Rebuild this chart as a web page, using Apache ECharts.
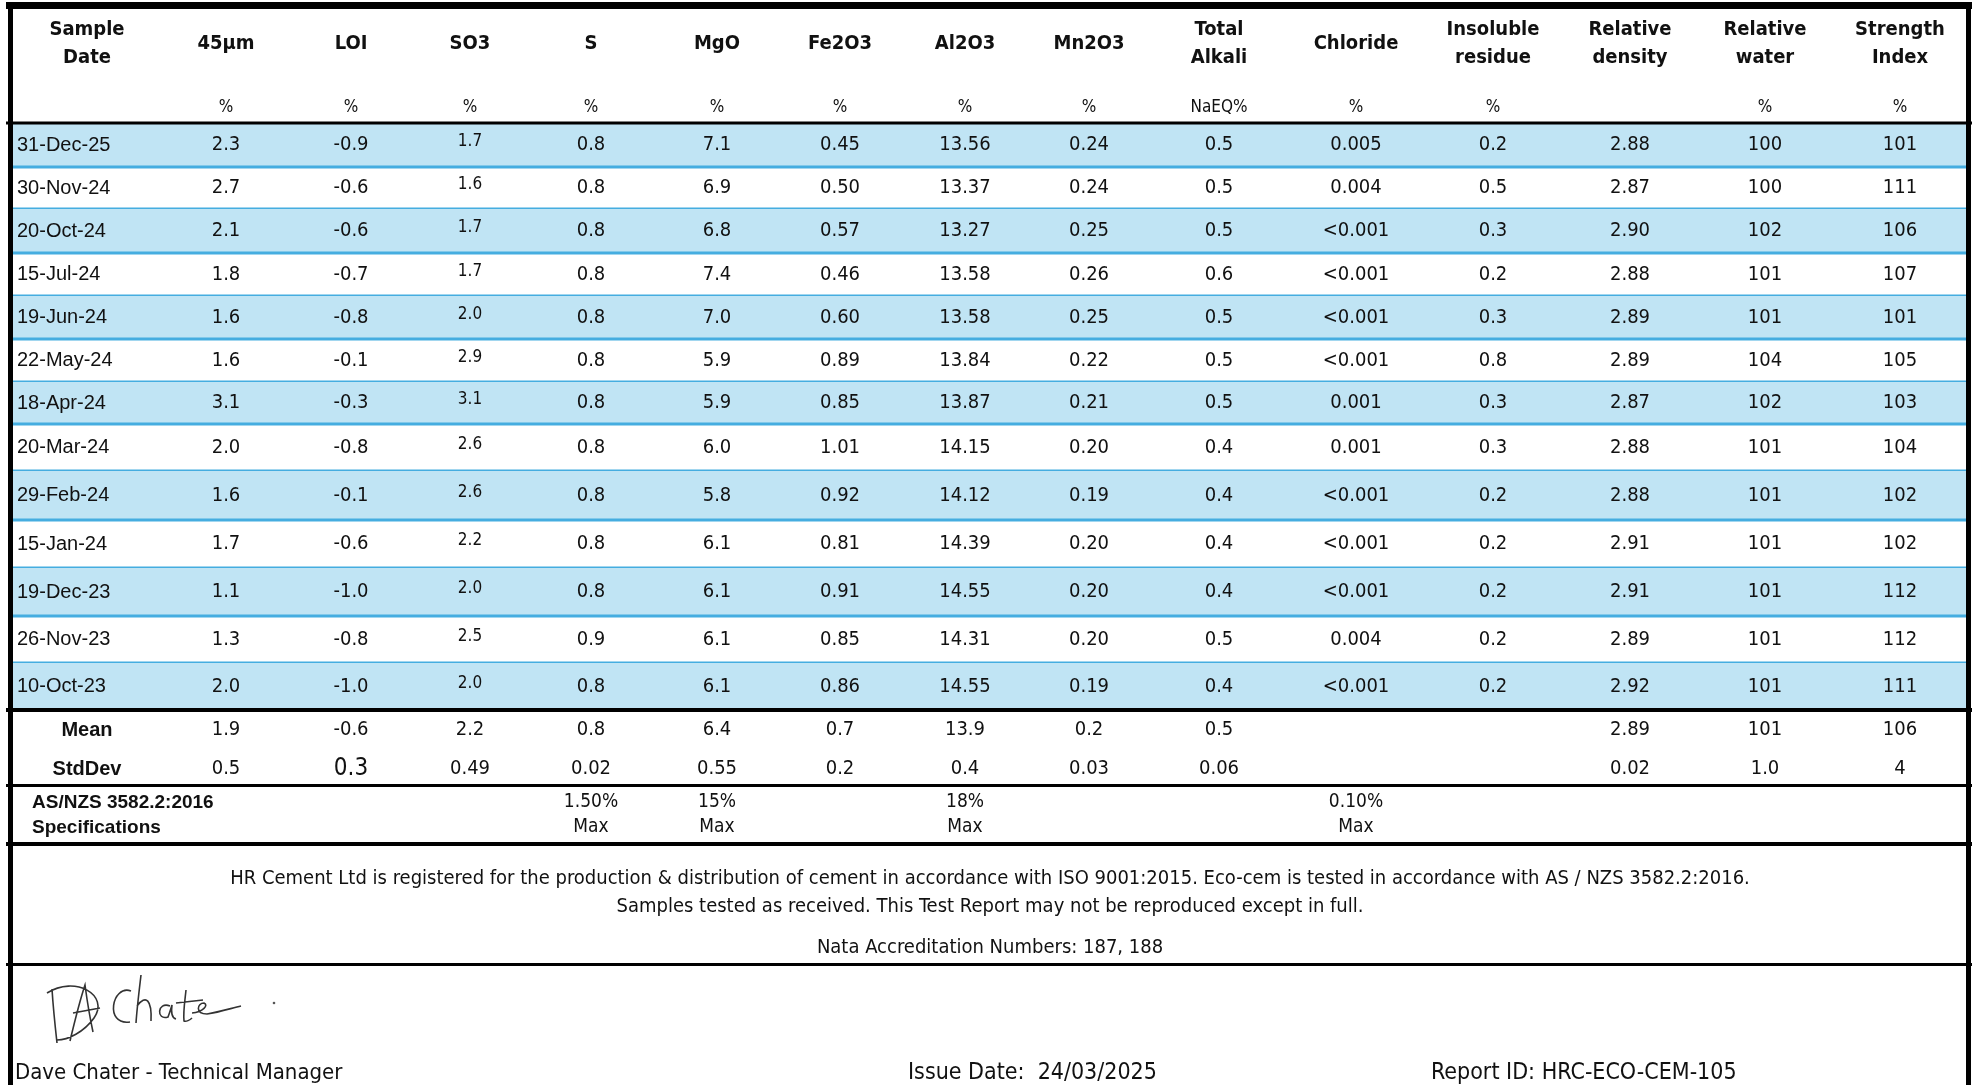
<!DOCTYPE html>
<html><head><meta charset="utf-8">
<script src="https://cdn.jsdelivr.net/npm/echarts@6/dist/echarts.min.js"></script>
<style>html,body{margin:0;padding:0;background:#fff}#c{width:1972px;height:1085px}</style>
</head><body><div id="c"></div>
<script>
// ---------------- DATA ----------------
const columnNames = ['Sample\nDate','45µm','LOI','SO3','S','MgO','Fe2O3','Al2O3','Mn2O3','Total\nAlkali','Chloride','Insoluble\nresidue','Relative\ndensity','Relative\nwater','Strength\nIndex'];
const unitLabels = ['','%','%','%','%','%','%','%','%','NaEQ%','%','%','','%','%'];
const sampleDates = ['31-Dec-25','30-Nov-24','20-Oct-24','15-Jul-24','19-Jun-24','22-May-24','18-Apr-24','20-Mar-24','29-Feb-24','15-Jan-24','19-Dec-23','26-Nov-23','10-Oct-23'];
const fines45 = ['2.3','2.7','2.1','1.8','1.6','1.6','3.1','2.0','1.6','1.7','1.1','1.3','2.0'];
const loi = ['-0.9','-0.6','-0.6','-0.7','-0.8','-0.1','-0.3','-0.8','-0.1','-0.6','-1.0','-0.8','-1.0'];
const so3 = ['1.7','1.6','1.7','1.7','2.0','2.9','3.1','2.6','2.6','2.2','2.0','2.5','2.0'];
const sulfur = ['0.8','0.8','0.8','0.8','0.8','0.8','0.8','0.8','0.8','0.8','0.8','0.9','0.8'];
const mgo = ['7.1','6.9','6.8','7.4','7.0','5.9','5.9','6.0','5.8','6.1','6.1','6.1','6.1'];
const fe2o3 = ['0.45','0.50','0.57','0.46','0.60','0.89','0.85','1.01','0.92','0.81','0.91','0.85','0.86'];
const al2o3 = ['13.56','13.37','13.27','13.58','13.58','13.84','13.87','14.15','14.12','14.39','14.55','14.31','14.55'];
const mn2o3 = ['0.24','0.24','0.25','0.26','0.25','0.22','0.21','0.20','0.19','0.20','0.20','0.20','0.19'];
const totalAlkali = ['0.5','0.5','0.5','0.6','0.5','0.5','0.5','0.4','0.4','0.4','0.4','0.5','0.4'];
const chloride = ['0.005','0.004','<0.001','<0.001','<0.001','<0.001','0.001','0.001','<0.001','<0.001','<0.001','0.004','<0.001'];
const insolubleResidue = ['0.2','0.5','0.3','0.2','0.3','0.8','0.3','0.3','0.2','0.2','0.2','0.2','0.2'];
const relativeDensity = ['2.88','2.87','2.90','2.88','2.89','2.89','2.87','2.88','2.88','2.91','2.91','2.89','2.92'];
const relativeWater = ['100','100','102','101','101','104','102','101','101','101','101','101','101'];
const strengthIndex = ['101','111','106','107','101','105','103','104','102','102','112','112','111'];
const meanRow = ['Mean','1.9','-0.6','2.2','0.8','6.4','0.7','13.9','0.2','0.5','','','2.89','101','106'];
const stdDevRow = ['StdDev','0.5','0.3','0.49','0.02','0.55','0.2','0.4','0.03','0.06','','','0.02','1.0','4'];
const specLabel = 'AS/NZS 3582.2:2016\nSpecifications';
const specRow = ['','','','','1.50%\nMax','15%\nMax','','18%\nMax','','','0.10%\nMax','','','',''];
const footerLines = [
  'HR Cement Ltd is registered for the production & distribution of cement in accordance with ISO 9001:2015. Eco-cem is tested in accordance with AS / NZS 3582.2:2016.',
  'Samples tested as received. This Test Report may not be reproduced except in full.',
  'Nata Accreditation Numbers: 187, 188'
];
const signatory = 'Dave Chater - Technical Manager';
const issueDate = 'Issue Date:  24/03/2025';
const reportId = 'Report ID: HRC-ECO-CEM-105';

// ---------------- LAYOUT (page units) ----------------
const COL_X = [87,226,351,470,591,717,840,965,1089,1219,1356,1493,1630,1765,1900];
const ROW_EDGES = [123,167,209,253,296,339,382,424,471,520,568,616,663,710];
const TABLE_L = 12, TABLE_R = 1967;
const NARROW = "'Liberation Sans Narrow','DejaVu Sans Condensed',sans-serif";
const ARIAL = "'Liberation Sans',Arial,sans-serif";
const SIGNATURE_PATH = 'M52,989 C53,1005 55,1025 57,1043 M47,993 C75,975 110,995 94,1018 C84,1032 68,1040 57,1040 ' +
  'M70,1041 C75,1020 80,1000 85,985 C87,1000 90,1018 93,1032 M73,1013 L100,1008 ' +
  'M131,991 C112,984 104,1026 130,1022 M141,975 C139,992 137,1008 136,1023 M137,1006 C146,994 152,1000 151,1021 ' +
  'M170,1006 C157,1001 156,1021 168,1017 C170,1012 171,1008 172,1005 C171,1012 172,1018 176,1019 ' +
  'M186,990 C185,1000 183,1012 184,1021 C186,1022 190,1020 192,1018 M176,1003 L203,1000 ' +
  'M192,1013 C203,1012 209,1005 204,1003 C197,1003 195,1014 207,1014 C220,1012 232,1008 241,1006';

const bodyCols = [fines45, loi, so3, sulfur, mgo, fe2o3, al2o3, mn2o3, totalAlkali, chloride, insolubleResidue, relativeDensity, relativeWater, strengthIndex];

// ---------------- CELLS ----------------
const cells = [];
function add(x, y, text, font, align, lh) { cells.push({x, y, text, font, align: align || 'center', lh: lh || 0}); }

columnNames.forEach((n, i) => add(COL_X[i], 44, n, 'bold 20px ' + NARROW, 'center', 28));
unitLabels.forEach((u, i) => { if (u) add(COL_X[i], 108, u, '17px ' + NARROW); });
sampleDates.forEach((d, r) => {
  const yc = (ROW_EDGES[r] + ROW_EDGES[r + 1]) / 2;
  add(17, yc, d, '20px ' + ARIAL, 'left');
  bodyCols.forEach((col, c) => {
    if (c === 2) add(COL_X[c + 1], yc - 3, col[r], '17px ' + NARROW);
    else add(COL_X[c + 1], yc, col[r], '20px ' + NARROW);
  });
});
meanRow.forEach((v, i) => { if (v) add(COL_X[i], 730, v, i === 0 ? 'bold 20px ' + ARIAL : '20px ' + NARROW); });
stdDevRow.forEach((v, i) => { if (v) add(COL_X[i], 769, v, i === 0 ? 'bold 20px ' + ARIAL : (i === 2 ? '24px ' : '20px ') + NARROW); });
add(32, 815, specLabel, 'bold 19px ' + ARIAL, 'left', 25);
specRow.forEach((v, i) => { if (v) add(COL_X[i], 815, v, '19px ' + NARROW, 'center', 25); });
add(990, 879, footerLines[0], '20px ' + NARROW);
add(990, 907, footerLines[1], '20px ' + NARROW);
add(990, 948, footerLines[2], '20px ' + NARROW);
add(15, 1073, signatory, '22px ' + NARROW, 'left');
add(908, 1073, issueDate, '23px ' + NARROW, 'left');
add(1431, 1073, reportId, '23px ' + NARROW, 'left');

// horizontal black rules [y, thickness]
const blackRules = [[5.5,7],[123,3],[710,4],[785.5,3],[844,4],[964.5,3]];
// vertical borders [x, thickness]
const blackVerticals = [[10.5,5],[1968.5,5]];

const chart = echarts.init(document.getElementById('c'));
chart.setOption({
  animation: false,
  grid: {left: 0, right: 0, top: 0, bottom: 0},
  xAxis: {type: 'value', min: 0, max: 1972, show: false},
  yAxis: {type: 'value', min: 0, max: 1085, inverse: true, show: false},
  series: [
    {
      type: 'custom', name: 'bands', silent: true,
      data: sampleDates.map((d, i) => [i]),
      renderItem(params, api) {
        const i = params.dataIndex;
        const a = api.coord([TABLE_L, ROW_EDGES[i]]);
        const b = api.coord([TABLE_R, ROW_EDGES[i + 1]]);
        const children = [];
        if (i % 2 === 0) children.push({type: 'rect', shape: {x: a[0], y: a[1], width: b[0] - a[0], height: b[1] - a[1]}, style: {fill: '#C0E4F4'}});
        if (i < sampleDates.length - 1) children.push({type: 'line', shape: {x1: a[0], y1: b[1], x2: b[0], y2: b[1]}, style: {stroke: '#45ADE0', lineWidth: 3}});
        return {type: 'group', children};
      }
    },
    {
      type: 'custom', name: 'rules', silent: true,
      data: blackRules.map(r => [r[0]]),
      renderItem(params, api) {
        const r = blackRules[params.dataIndex];
        const a = api.coord([6, r[0]]), b = api.coord([1972, r[0]]);
        return {type: 'line', shape: {x1: a[0], y1: a[1], x2: b[0], y2: b[1]}, style: {stroke: '#000', lineWidth: r[1]}};
      }
    },
    {
      type: 'custom', name: 'verticals', silent: true,
      data: blackVerticals.map(v => [v[0]]),
      renderItem(params, api) {
        const v = blackVerticals[params.dataIndex];
        const a = api.coord([v[0], 2]), b = api.coord([v[0], 1085]);
        return {type: 'line', shape: {x1: a[0], y1: a[1], x2: b[0], y2: b[1]}, style: {stroke: '#000', lineWidth: v[1]}};
      }
    },
    {
      type: 'custom', name: 'cells', silent: true,
      data: cells.map(c => [c.x, c.y]),
      renderItem(params, api) {
        const c = cells[params.dataIndex];
        const p = api.coord([c.x, c.y]);
        const style = {text: c.text, font: c.font, fill: '#111', align: c.align, verticalAlign: 'middle'};
        if (c.lh) style.lineHeight = c.lh;
        return {type: 'text', x: p[0], y: p[1], style};
      }
    },
    {
      type: 'custom', name: 'signature', silent: true,
      data: [[47, 975]],
      renderItem(params, api) {
        const a = api.coord([47, 975]), b = api.coord([241, 1043]), d = api.coord([274, 1003]);
        return {type: 'group', children: [
          {type: 'path', shape: {pathData: SIGNATURE_PATH, x: a[0], y: a[1], width: b[0] - a[0], height: b[1] - a[1], layout: 'cover'},
           style: {stroke: '#333', lineWidth: 1.6, fill: null}},
          {type: 'circle', shape: {cx: d[0], cy: d[1], r: 1.3}, style: {fill: '#555'}}
        ]};
      }
    }
  ]
});
</script>
</body></html>
